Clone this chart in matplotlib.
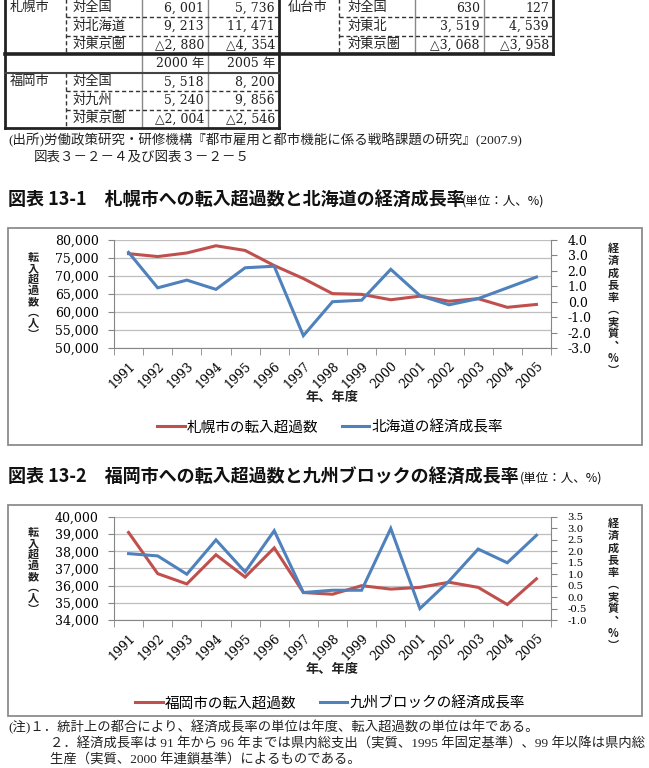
import numpy as np
import matplotlib
matplotlib.use('Agg')
import matplotlib.pyplot as plt
from matplotlib.lines import Line2D
from matplotlib.patches import Rectangle
from matplotlib.ticker import FuncFormatter, MultipleLocator

plt.rcParams['font.family'] = ['DejaVu Serif', 'Noto Sans CJK JP']

JP = ['Noto Sans CJK JP', 'DejaVu Sans']
JPS = ['Liberation Serif', 'Noto Sans CJK JP']
NUM = ['DejaVu Serif', 'Noto Sans CJK JP']

# --- table data (transfers, persons) ---
table_years = ['2000 年', '2005 年']
sapporo_rows = ['対全国', '対北海道', '対東京圏']
sapporo_2000 = [6001, 9213, -2880]
sapporo_2005 = [5736, 11471, -4354]
sendai_rows = ['対全国', '対東北', '対東京圏']
sendai_2000 = [630, 3519, -3068]
sendai_2005 = [127, 4539, -3958]
fukuoka_rows = ['対全国', '対九州', '対東京圏']
fukuoka_2000 = [5518, 5240, -2004]
fukuoka_2005 = [8200, 9856, -2546]

# --- chart data ---
years = ['1991', '1992', '1993', '1994', '1995', '1996', '1997', '1998',
         '1999', '2000', '2001', '2002', '2003', '2004', '2005']
sapporo_inflow = [76200, 75400, 76400, 78400, 77100, 72900, 69300, 65100,
                  64900, 63400, 64400, 63000, 63700, 61300, 62100]
hokkaido_growth = [3.2, 0.9, 1.4, 0.8, 2.2, 2.3, -2.2, 0.0,
                   0.1, 2.1, 0.4, -0.2, 0.2, 0.9, 1.6]
fukuoka_inflow = [39100, 36700, 36100, 37800, 36500, 38200, 35600, 35500,
                  36000, 35800, 35900, 36200, 35900, 34900, 36400]
kyushu_growth = [1.9, 1.8, 1.0, 2.5, 1.1, 2.9, 0.2, 0.3,
                 0.3, 3.0, -0.5, 0.7, 2.1, 1.5, 2.7]

W, H = 649, 768
RED = '#C0504D'
BLUE = '#4F81BD'
GRAY = '#868686'


def rect(x0, y0, x1, y1):
    return [x0 / W, 1 - y1 / H, (x1 - x0) / W, (y1 - y0) / H]


def fmt(v):
    return ('△' if v < 0 else '') + '{:,}'.format(abs(v)).replace(',', ', ')


fig = plt.figure(figsize=(W / 100, H / 100), dpi=100)
page = fig.add_axes([0, 0, 1, 1])
page.set_xlim(0, W)
page.set_ylim(H, 0)
page.axis('off')

# ---------------- table ----------------
def hline(y, x0, x1, lw=1.0, ls='-', c='#555555'):
    page.plot([x0, x1], [y, y], color=c, lw=lw, ls=ls, dashes=(3, 2) if ls == '--' else (None, None))


def vline(x, y0, y1, lw=1.0, ls='-', c='#555555'):
    page.plot([x, x], [y0, y1], color=c, lw=lw, ls=ls, dashes=(3, 2) if ls == '--' else (None, None))


rows_y = [8, 26.5, 45]
fk_y = [82, 100.5, 119]

vline(5, -5, 128, lw=2, c='#222222')
vline(66, -5, 54, ls='--', c='#333333')
vline(66, 72.5, 128, ls='--', c='#333333')
vline(142, -5, 128, c='#888888')
vline(208, -5, 128, c='#888888')
vline(279, -5, 128, lw=2, c='#222222')
vline(339, -5, 54, ls='--', c='#333333')
vline(415, -5, 54, c='#888888')
vline(484, -5, 54, c='#888888')
vline(553, -5, 54, lw=2, c='#222222')
for y in [17, 35.5]:
    hline(y, 66, 279, ls='--', c='#333333')
    hline(y, 339, 553, ls='--', c='#333333')
hline(54, 5, 553, lw=2.6, c='#222222')
hline(72.5, 5, 279, lw=1.5, c='#444444')
for y in [91, 109.5]:
    hline(y, 66, 279, ls='--', c='#333333')
hline(128, 5, 279, lw=2, c='#222222')

tkw = dict(family=JPS, size=9.5, va='center', color='#222222')
nkw = dict(family=NUM, size=9, va='center', color='#222222', ha='right')
page.text(10, rows_y[0], '札幌市', ha='left', **tkw)
page.text(288, rows_y[0], '仙台市', ha='left', **tkw)
page.text(10, fk_y[0], '福岡市', ha='left', **tkw)
for i in range(3):
    page.text(73, rows_y[i], sapporo_rows[i], ha='left', **tkw)
    page.text(204, rows_y[i], fmt(sapporo_2000[i]), **nkw)
    page.text(275, rows_y[i], fmt(sapporo_2005[i]), **nkw)
    page.text(348, rows_y[i], sendai_rows[i], ha='left', **tkw)
    page.text(480, rows_y[i], fmt(sendai_2000[i]), **nkw)
    page.text(549, rows_y[i], fmt(sendai_2005[i]), **nkw)
    page.text(73, fk_y[i], fukuoka_rows[i], ha='left', **tkw)
    page.text(204, fk_y[i], fmt(fukuoka_2000[i]), **nkw)
    page.text(275, fk_y[i], fmt(fukuoka_2005[i]), **nkw)
page.text(204, 63, table_years[0], **nkw)
page.text(275, 63, table_years[1], **nkw)

page.text(8, 140, '(出所)労働政策研究・研修機構『都市雇用と都市機能に係る戦略課題の研究』(2007.9)',
          ha='left', **dict(tkw, size=9.7))
page.text(34, 157, '図表３－２－４及び図表３－２－５', ha='left', **dict(tkw, size=9.7))


# ---------------- charts ----------------
def vtext(x, y_top, chars, ls):
    # stacked (vertical) axis title, one glyph per line
    page.text(x, y_top, '\n'.join(chars), ha='center', va='top', ma='center',
              family=JP, size=8, weight='bold', color='#222222', linespacing=ls)


def chart(title, unit_x, box, plot, inflow, growth, lims, rlims, rsize, names, leg_y):
    bx0, by0, bx1, by1 = box
    page.add_patch(Rectangle((bx0, by0), bx1 - bx0, by1 - by0, fill=False,
                             ec='#8c8c8c', lw=1.3))
    page.text(8, by0 - 28, title, ha='left', va='center', family=JP, size=13,
              weight='bold', color='#111111')
    page.text(unit_x, by0 - 27, '(単位：人、%)', ha='left', va='center', family=JP,
              size=9, color='#111111')

    x = np.arange(len(years))
    ax = fig.add_axes(rect(*plot))
    ax.set_facecolor('none')
    ax.plot(x, inflow, color=RED, lw=2.2, solid_joinstyle='miter')
    ax.set_xlim(-0.5, len(years) - 0.5)
    ax.set_ylim(lims[0], lims[1])
    ax.yaxis.set_major_locator(MultipleLocator(lims[2]))
    ax.yaxis.set_major_formatter(FuncFormatter(lambda v, p: '{:,.0f}'.format(v)))
    ax.yaxis.grid(True, color='#BFBFBF', lw=0.9)
    ax.set_axisbelow(True)
    for s in ['top', 'right']:
        ax.spines[s].set_visible(False)
    for s in ['left', 'bottom']:
        ax.spines[s].set_color(GRAY)
    ax.set_xticks(x)
    ax.set_xticklabels(years, rotation=45, ha='right', va='top',
                       rotation_mode='anchor', fontsize=9)
    ax.set_xticks(np.arange(-0.5, len(years)), minor=True)
    ax.tick_params(axis='x', which='major', length=0, pad=8)
    ax.tick_params(axis='x', which='minor', length=5, color=GRAY)
    ax.tick_params(axis='y', length=4, color=GRAY, pad=7, labelsize=9)

    ax2 = ax.twinx()
    ax2.plot(x, growth, color=BLUE, lw=2.2, solid_joinstyle='miter')
    ax2.set_ylim(rlims[0], rlims[1])
    ax2.yaxis.set_major_locator(MultipleLocator(rlims[2]))
    ax2.yaxis.set_major_formatter(FuncFormatter(lambda v, p: '{:.1f}'.format(v)))
    for s in ['top', 'left', 'bottom']:
        ax2.spines[s].set_visible(False)
    ax2.spines['right'].set_color(GRAY)
    ax2.tick_params(axis='y', length=4, color=GRAY, pad=8, labelsize=rsize)

    px0, py0, px1, py1 = plot
    page.text((px0 + px1) / 2, py1 + 49, '年、年度', ha='center', va='center',
              family=JP, size=9.5, weight='bold', color='#222222')

    handles = [Line2D([], [], color=RED, lw=2.2), Line2D([], [], color=BLUE, lw=2.2)]
    fig.legend(handles, names, loc='center', bbox_to_anchor=(330 / W, 1 - leg_y / H),
               ncol=2, frameon=False, prop=dict(family=JP, size=10.5),
               handlelength=1.9, columnspacing=1.6, handletextpad=0.15)
    return ax


chart('図表 13-1　札幌市への転入超過数と北海道の経済成長率', 462,
      (8, 228, 642, 445), (114, 240, 551, 348),
      sapporo_inflow, hokkaido_growth, (50000, 80000, 5000), (-3, 4, 1), 9,
      ['札幌市の転入超過数', '北海道の経済成長率'], 427)
vtext(33, 251, '転入超過数︵人︶', 0.8)
vtext(613, 242, '経済成長率︵実質︑%︶', 0.92)

chart('図表 13-2　福岡市への転入超過数と九州ブロックの経済成長率', 520,
      (8, 505, 642, 716), (114, 517, 551, 620),
      fukuoka_inflow, kyushu_growth, (34000, 40000, 1000), (-1, 3.5, 0.5), 7.3,
      ['福岡市の転入超過数', '九州ブロックの経済成長率'], 703)
vtext(33, 526, '転入超過数︵人︶', 0.8)
vtext(613, 517, '経済成長率︵実質︑%︶', 0.92)

# ---------------- notes ----------------
nt = dict(tkw, size=9.6)
page.text(8, 727, '(注)１．統計上の都合により、経済成長率の単位は年度、転入超過数の単位は年である。',
          ha='left', **nt)
page.text(50, 744, '２．経済成長率は 91 年から 96 年までは県内総支出（実質、1995 年固定基準）、99 年以降は県内総',
          ha='left', **nt)
page.text(50, 760, '生産（実質、2000 年連鎖基準）によるものである。', ha='left', **nt)

fig.savefig('out.png', dpi=100)
